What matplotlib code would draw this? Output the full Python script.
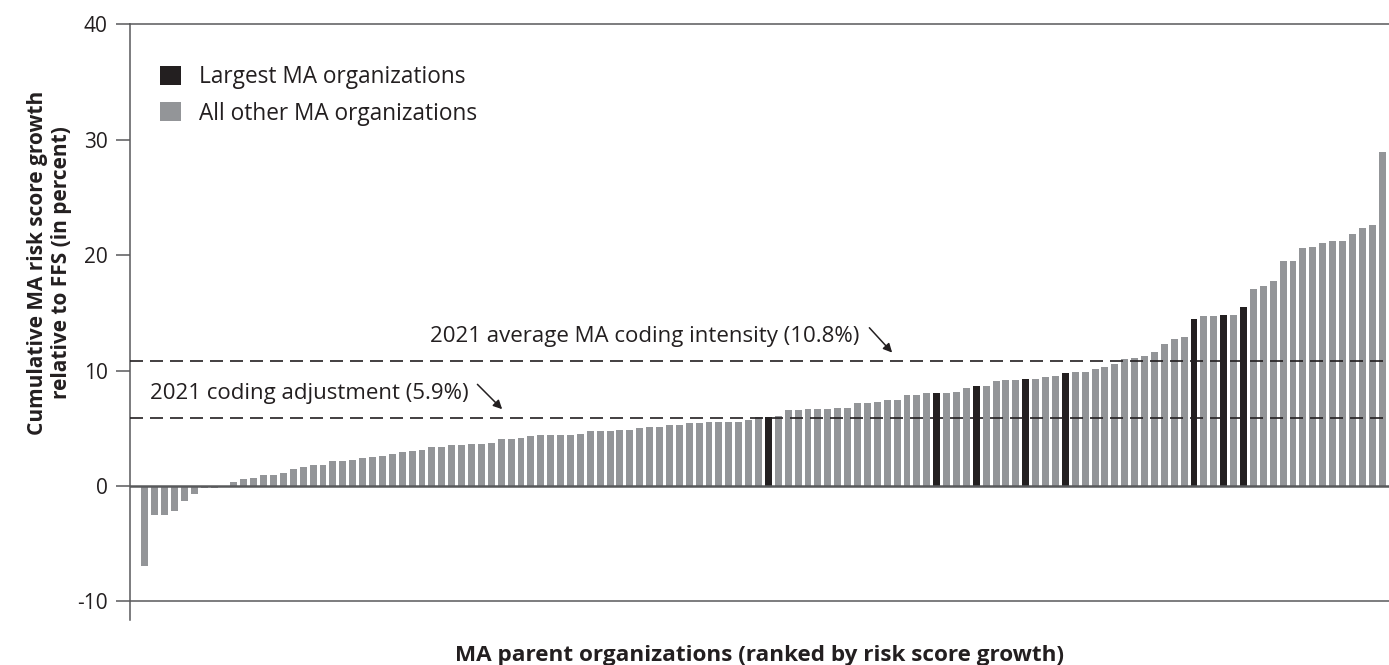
import matplotlib.pyplot as plt
import numpy as np

# cumulative MA risk score growth relative to FFS, one bar per parent org, ranked
growth = [
    -6.9, -2.5, -2.5, -2.2, -1.3, -0.7, -0.15, -0.15, -0.1, 0.38,
    0.64, 0.72, 0.98, 0.98, 1.16, 1.5, 1.68, 1.85, 1.85, 2.2,
    2.2, 2.25, 2.43, 2.5, 2.6, 2.77, 2.95, 3.03, 3.12, 3.38,
    3.38, 3.55, 3.55, 3.64, 3.64, 3.73, 4.08, 4.08, 4.16, 4.34,
    4.42, 4.42, 4.42, 4.42, 4.5, 4.77, 4.77, 4.77, 4.86, 4.86,
    5.03, 5.12, 5.12, 5.29, 5.29, 5.46, 5.46, 5.55, 5.55, 5.55,
    5.55, 5.72, 5.98, 5.98, 6.07, 6.6, 6.6, 6.68, 6.68, 6.68,
    6.76, 6.76, 7.2, 7.2, 7.28, 7.46, 7.46, 7.9, 7.9, 8.06,
    8.06, 8.06, 8.15, 8.5, 8.67, 8.67, 9.1, 9.19, 9.19, 9.28,
    9.28, 9.45, 9.54, 9.8, 9.88, 9.88, 10.14, 10.3, 10.58, 11.0,
    11.1, 11.27, 11.62, 12.3, 12.75, 12.92, 14.48, 14.74, 14.74, 14.83,
    14.83, 15.52, 17.08, 17.34, 17.77, 19.5, 19.5, 20.64, 20.72, 21.07,
    21.24, 21.24, 21.85, 22.37, 22.63, 28.96,
]
# positions (0-based rank) of the largest MA organizations
largest = [63, 80, 84, 89, 93, 106, 109, 111]

coding_adjustment = 5.9
coding_intensity = 10.8

y_ticks = [-10, 0, 10, 20, 30, 40]

BLACK = "#231f20"
GREY = "#939598"
AXIS = "#58595b"

plt.rcParams["font.family"] = ["Open Sans", "DejaVu Sans"]

fig = plt.figure(figsize=(13.89, 6.65), dpi=100)
ax = fig.add_axes([0.0936, 0.0677, 0.9064, 0.8962])

x = np.arange(len(growth))
colors = [BLACK if i in largest else GREY for i in x]
ax.bar(x, growth, width=0.7, color=colors, zorder=2)

ax.set_xlim(-1.5, len(growth) - 0.3)
ax.set_ylim(-11.6, 40)

# zero line and the -10 rule
ax.axhline(0, color=AXIS, lw=1.8, zorder=3)
ax.axhline(-10, color=AXIS, lw=1.1, zorder=1)

# reference lines
for val in (coding_adjustment, coding_intensity):
    ax.axhline(val, color=BLACK, lw=1.2, ls=(0, (7.8, 4.2)), zorder=3)

arrow = dict(arrowstyle="-|>", color=BLACK, lw=1.1, mutation_scale=13,
             shrinkA=0, shrinkB=0)

ax.text(0.5, coding_adjustment + 2.15, "2021 coding adjustment (5.9%)",
        fontsize=16, color=BLACK, va="center", ha="left")
ax.annotate("", xy=(36.1, coding_adjustment + 0.75),
            xytext=(33.6, coding_adjustment + 2.9), arrowprops=arrow)

ax.text(28.8, coding_intensity + 2.15, "2021 average MA coding intensity (10.8%)",
        fontsize=16, color=BLACK, va="center", ha="left")
ax.annotate("", xy=(75.5, coding_intensity + 0.75),
            xytext=(73.2, coding_intensity + 2.9), arrowprops=arrow)

# spines and ticks
for side in ("right", "bottom"):
    ax.spines[side].set_visible(False)
for side in ("left", "top"):
    ax.spines[side].set_color(AXIS)
    ax.spines[side].set_linewidth(1.1)
ax.set_xticks([])
ax.set_yticks(y_ticks)
ax.set_yticklabels([str(t) for t in y_ticks])
ax.tick_params(axis="y", length=10, width=1.1, color=AXIS, labelsize=15,
               labelcolor=BLACK, pad=6)

ax.set_ylabel("Cumulative MA risk score growth\nrelative to FFS (in percent)",
              fontsize=15, fontweight="bold", color=BLACK)
ax.yaxis.set_label_coords(-0.046, 0.6)
ax.set_xlabel("MA parent organizations (ranked by risk score growth)",
              fontsize=16.2, fontweight="bold", color=BLACK)
ax.xaxis.set_label_coords(0.5, -0.042)

# legend
ax.bar([0], [0], color=BLACK, label="Largest MA organizations")
ax.bar([0], [0], color=GREY, label="All other MA organizations")
ax.legend(loc="upper left", bbox_to_anchor=(0.008, 0.965), frameon=False,
          fontsize=16.3, handlelength=0.9, handleheight=0.9,
          handletextpad=0.8, labelspacing=0.55, labelcolor=BLACK)

fig.savefig("out.png", dpi=100)
